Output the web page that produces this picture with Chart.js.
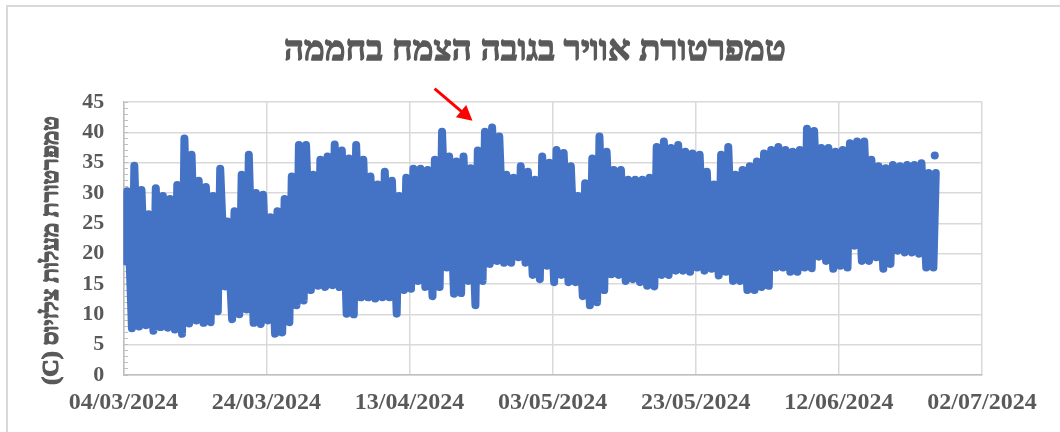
<!DOCTYPE html>
<html lang="he">
<head>
<meta charset="utf-8">
<script src="https://cdn.jsdelivr.net/npm/chart.js@4.4.1/dist/chart.umd.min.js"></script>
<style>
  html, body { margin: 0; padding: 0; background: #fff; }
  #frame { position: absolute; left: 6px; top: 5px; width: 1100px; height: 500px; border: 2px solid #d9d9d9; }
  #wrap { position: absolute; left: 0; top: 0; width: 1060px; height: 432px; }
</style>
</head>
<body>
<div id="frame"></div>
<div id="wrap"><canvas id="tempChart" dir="rtl"></canvas></div>
<script>
const ctx = document.getElementById("tempChart").getContext("2d");

const chartTitle = "טמפרטורת אוויר בגובה הצמח בחממה";
const yTitle = "טמפרטורת מעלות צלזיוס (C)";

// days counted from 04/03/2024
const startDay = [2024, 2, 4];
const xTicks = [0, 20, 40, 60, 80, 100, 120];
const yTicks = [0, 5, 10, 15, 20, 25, 30, 35, 40, 45];

// daily peaks and lows (deg C)
const dailyHigh = [
  30.3, 34.5, 30.5, 26.5, 30.8, 29.5, 29.0, 31.3, 39.0, 36.3,
  32.0, 31.0, 29.5, 34.0, 25.3, 27.0, 33.0, 36.3, 30.0, 29.7,
  26.0, 27.0, 29.0, 32.7, 37.9, 37.9, 33.0, 35.5, 36.0, 38.0,
  37.0, 35.7, 37.9, 35.5, 32.7, 31.4, 33.5, 32.0, 29.5, 32.5,
  34.0, 34.0, 33.8, 35.5, 40.1, 36.0, 35.2, 36.0, 34.1, 37.0,
  40.1, 40.8, 39.3, 33.0, 32.5, 34.4, 33.5, 32.2, 36.0, 35.0,
  37.1, 36.6, 34.4, 29.5, 31.6, 35.7, 39.3, 36.8, 33.8, 33.8,
  32.2, 32.2, 32.2, 32.5, 37.6, 38.5, 37.4, 37.9, 36.8, 36.5,
  36.3, 33.5, 31.4, 36.3, 37.6, 33.0, 33.8, 34.4, 35.2, 36.5,
  37.1, 37.6, 37.1, 36.8, 37.1, 40.6, 40.2, 37.4, 37.4, 36.8,
  37.1, 38.2, 38.5, 38.5, 35.5, 34.4, 34.1, 34.6, 34.4, 34.6,
  34.6, 34.9, 33.3, 33.3
];
const dailyLow = [
  18.8, 7.7, 8.0, 8.2, 7.3, 7.9, 7.8, 7.5, 6.8, 8.5,
  9.0, 8.6, 8.7, 10.5, 14.6, 9.2, 10.0, 10.8, 8.6, 8.4,
  9.0, 6.8, 7.0, 8.7, 11.5, 12.3, 14.0, 14.7, 14.5, 14.8,
  14.5, 10.1, 10.0, 12.8, 12.8, 12.6, 12.8, 12.8, 10.1, 14.0,
  14.2, 15.5, 14.5, 13.0, 14.5, 17.7, 13.4, 13.5, 15.5, 11.5,
  15.5, 18.3, 18.8, 18.5, 18.5, 19.4, 18.5, 16.5, 15.8, 18.0,
  15.3, 16.5, 15.3, 15.3, 13.0, 11.5, 12.0, 14.0, 16.6, 16.5,
  15.5, 15.8, 15.3, 14.7, 14.6, 16.5, 16.5, 17.2, 17.2, 17.0,
  17.7, 17.2, 17.5, 16.4, 17.0, 15.5, 15.5, 14.0, 14.0, 14.5,
  14.7, 17.7, 17.7, 17.0, 17.0, 17.7, 17.6, 19.5, 18.8, 17.5,
  18.0, 17.7, 21.3, 18.8, 18.8, 19.4, 17.5, 18.3, 20.5, 20.2,
  20.2, 20.0, 17.7, 17.7
];
const lowHour = 5;
const highHour = 13;
const lastReading = { x: 113.4, y: 36.2 };

// arrow annotation in data units
const arrowTail = [43.5, 47.2];
const arrowTip = [48.8, 41.9];

const readings = [];
dailyHigh.forEach((hi, d) => {
  readings.push({ x: d + lowHour / 24, y: dailyLow[d] });
  readings.push({ x: d + highHour / 24, y: hi });
});

function fmtDate(v) {
  const d = new Date(startDay[0], startDay[1], startDay[2] + v);
  const dd = String(d.getDate()).padStart(2, "0");
  const mm = String(d.getMonth() + 1).padStart(2, "0");
  return dd + "/" + mm + "/" + d.getFullYear();
}

const grey = "#595959";
const serif = "'Liberation Serif', 'Times New Roman', serif";

// hebrew has no bold face here, so fill + stroke to thicken it
function boldText(c, text, x, y, size, rot) {
  c.save();
  c.translate(x, y);
  c.rotate(rot);
  c.font = "bold " + size + "px " + serif;
  c.textAlign = "center";
  c.textBaseline = "middle";
  c.fillStyle = grey;
  c.strokeStyle = grey;
  c.lineWidth = 1.3;
  c.lineJoin = "round";
  c.fillText(text, 0, 0);
  c.strokeText(text, 0, 0);
  c.restore();
}

const extrasPlugin = {
  id: "extras",
  afterDraw(chart) {
    const c = chart.ctx;
    const { x, y } = chart.scales;
    const area = chart.chartArea;

    boldText(c, chartTitle, chart.width / 2 + 5, 51, 35, 0);
    boldText(c, yTitle, 52, (area.top + area.bottom) / 2 + 12, 24, -Math.PI / 2);

    const x1 = x.getPixelForValue(arrowTail[0]), y1 = y.getPixelForValue(arrowTail[1]);
    const x2 = x.getPixelForValue(arrowTip[0]), y2 = y.getPixelForValue(arrowTip[1]);
    const a = Math.atan2(y2 - y1, x2 - x1);
    c.save();
    c.strokeStyle = "#ff0000";
    c.fillStyle = "#ff0000";
    c.lineWidth = 3;
    c.beginPath();
    c.moveTo(x1, y1);
    c.lineTo(x2 - 10 * Math.cos(a), y2 - 10 * Math.sin(a));
    c.stroke();
    c.beginPath();
    c.moveTo(x2, y2);
    c.lineTo(x2 - 15 * Math.cos(a) + 8 * Math.sin(a), y2 - 15 * Math.sin(a) - 8 * Math.cos(a));
    c.lineTo(x2 - 15 * Math.cos(a) - 8 * Math.sin(a), y2 - 15 * Math.sin(a) + 8 * Math.cos(a));
    c.closePath();
    c.fill();
    c.restore();
  }
};

new Chart(ctx, {
  type: "scatter",
  data: {
    datasets: [
      {
        data: readings,
        showLine: true,
        borderColor: "#4472C4",
        backgroundColor: "#4472C4",
        borderWidth: 8,
        borderJoinStyle: "round",
        borderCapStyle: "round",
        pointRadius: 0,
      },
      {
        data: [lastReading],
        backgroundColor: "#4472C4",
        borderWidth: 0,
        pointRadius: 4,
      },
    ],
  },
  options: {
    responsive: true,
    maintainAspectRatio: false,
    animation: false,
    layout: { padding: { left: 30, right: 78, top: 102, bottom: 1 } },
    plugins: {
      legend: { display: false },
      tooltip: { enabled: false },
      title: { display: false },
    },
    scales: {
      x: {
        type: "linear",
        min: 0,
        max: 120,
        afterBuildTicks: (s) => { s.ticks = xTicks.map((v) => ({ value: v })); },
        ticks: {
          callback: (v) => fmtDate(v),
          color: grey,
          font: { family: serif, size: 24, weight: "bold", lineHeight: 1.0 },
          padding: 16,
          maxRotation: 0,
        },
        grid: { color: "#d9d9d9", lineWidth: 1.5, drawTicks: false },
        border: { color: "#bfbfbf", width: 1.5 },
      },
      y: {
        min: 0,
        max: 45,
        afterBuildTicks: (s) => { s.ticks = yTicks.map((v) => ({ value: v })); },
        afterFit: (s) => { s.width = 93.3; },
        ticks: {
          color: grey,
          font: { family: serif, size: 22, weight: "bold" },
          padding: 19,
        },
        grid: { color: "#d9d9d9", lineWidth: 1.5, drawTicks: false },
        border: { color: "#bfbfbf", width: 1.5 },
      },
      yMinor: {
        axis: "y",
        position: { x: 0 },
        min: 0,
        max: 45,
        ticks: { display: false, stepSize: 1 },
        grid: { drawOnChartArea: false, tickLength: -5, color: "#bfbfbf", lineWidth: 1 },
        border: { display: false },
      },
    },
  },
  plugins: [extrasPlugin],
});
</script>
</body>
</html>
